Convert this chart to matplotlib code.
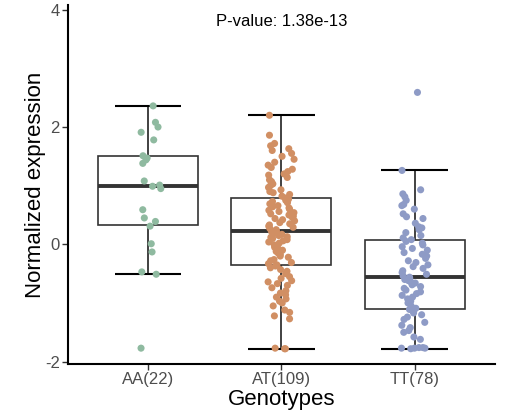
import numpy as np
import matplotlib
matplotlib.use("Agg")
import matplotlib.pyplot as plt

plt.rcParams['font.family'] = ['Liberation Sans', 'DejaVu Sans']
plt.rcParams['axes.unicode_minus'] = False

genotypes = ["AA", "AT", "TT"]
counts = [22, 109, 78]
colors = ["#8fbaa0", "#d18f63", "#8e9bc6"]
p_label = "P-value: 1.38e-13"

aa = [2.36, 2.08, 2.00, 1.91, 1.78, 1.51, 1.47, 1.44, 1.38, 1.08, 1.01,
      0.99, 0.95, 0.59, 0.45, 0.39, 0.31, 0.01, -0.13, -0.47, -0.51, -1.77]

at = [-1.78, -1.78, -1.77, -1.27, -1.22, -1.16, -1.12, -1.05, -1.00, -0.97,
      -0.93, -0.90, -0.86, -0.83, -0.79, -0.74, -0.70, -0.67, -0.64, -0.62,
      -0.58, -0.55, -0.50, -0.46, -0.43, -0.40, -0.37, -0.35,
      -0.33, -0.31, -0.28, -0.26, -0.22, -0.20, -0.17, -0.15, -0.12, -0.10,
      -0.08, -0.05, -0.03, -0.01, 0.02, 0.04, 0.06, 0.08, 0.10, 0.12,
      0.13, 0.15, 0.17, 0.18, 0.20, 0.22, 0.23,
      0.25, 0.27, 0.29, 0.31, 0.33, 0.35, 0.37, 0.40, 0.42, 0.44,
      0.46, 0.48, 0.50, 0.52, 0.54, 0.56, 0.58, 0.60, 0.62, 0.64,
      0.66, 0.69, 0.71, 0.73, 0.75, 0.77, 0.79,
      0.82, 0.85, 0.88, 0.90, 0.93, 0.97, 1.00, 1.03, 1.07, 1.10,
      1.14, 1.18, 1.20, 1.24, 1.28, 1.31, 1.35, 1.40, 1.45, 1.50,
      1.55, 1.60, 1.63, 1.68, 1.72, 1.86, 2.20]

tt = [-1.78, -1.77, -1.77, -1.77, -1.76, -1.76, -1.62, -1.58, -1.50, -1.47,
      -1.42, -1.38, -1.33, -1.28, -1.24, -1.20, -1.17, -1.14, -1.12,
      -1.11, -1.09, -1.05, -1.00, -0.97, -0.93, -0.90, -0.87, -0.84, -0.81,
      -0.78, -0.75, -0.72, -0.69, -0.66, -0.64, -0.62, -0.60, -0.58, -0.56,
      -0.54, -0.51, -0.48, -0.45, -0.41, -0.38, -0.35, -0.31, -0.28, -0.24,
      -0.20, -0.17, -0.14, -0.10, -0.07, -0.04, -0.01, 0.02, 0.05,
      0.08, 0.11, 0.15, 0.20, 0.25, 0.28, 0.30, 0.36, 0.44, 0.47,
      0.52, 0.60, 0.66, 0.68, 0.75, 0.81, 0.86, 0.93, 1.26, 2.59]

groups = [aa, at, tt]
labels = ["{}({})".format(g, n) for g, n in zip(genotypes, counts)]
pos = np.arange(1, len(groups) + 1)

fig = plt.figure(figsize=(5.08, 4.16), dpi=100)
ax = fig.add_axes([0.134, 0.125, 0.840, 0.863])

# whisker caps (errorbar style) drawn first, box on top
for x, vals in zip(pos, groups):
    v = np.array(vals)
    q1, q3 = np.percentile(v, [25, 75])
    iqr = q3 - q1
    lo = v[v >= q1 - 1.5 * iqr].min()
    hi = v[v <= q3 + 1.5 * iqr].max()
    ax.vlines(x, lo, hi, color="#333333", lw=1.3, zorder=1)
    ax.hlines([lo, hi], x - 0.25, x + 0.25, color="black", lw=1.5, zorder=1)

ax.boxplot(groups, positions=pos, widths=0.75, showfliers=False, whis=1.5,
           patch_artist=True, showcaps=False,
           boxprops=dict(facecolor="white", edgecolor="#333333", lw=1.2),
           medianprops=dict(color="#333333", lw=2.8),
           whiskerprops=dict(lw=0), zorder=2)

# deterministic jitter, scrambled so it does not line up with sorted values
for x, vals, c in zip(pos, groups, colors):
    idx = np.arange(len(vals)) + 17 * x
    jit = (np.sin(idx * 78.233) * 43758.5453) % 1 - 0.5
    ax.scatter(x + jit * 0.2, vals, s=26, color=c, edgecolors="none", zorder=3)

ax.text(2, 3.8, p_label, ha="center", va="center", fontsize=12, color="black")

ax.set_xlim(0.4, 3.6)
ax.set_ylim(-2.04, 4.08)
ax.set_yticks([-2, 0, 2, 4])
ax.set_xticks(pos)
ax.set_xticklabels(labels)
ax.tick_params(labelsize=12, labelcolor="#4d4d4d", color="#333333",
               length=4, width=1, pad=2)
ax.set_xlabel("Genotypes", fontsize=16, labelpad=1)
ax.set_ylabel("Normalized expression", fontsize=16, labelpad=-1)
for side in ["top", "right"]:
    ax.spines[side].set_visible(False)
for side in ["left", "bottom"]:
    ax.spines[side].set_linewidth(1.5)
    ax.spines[side].set_color("black")

fig.savefig("out.png", dpi=100)
